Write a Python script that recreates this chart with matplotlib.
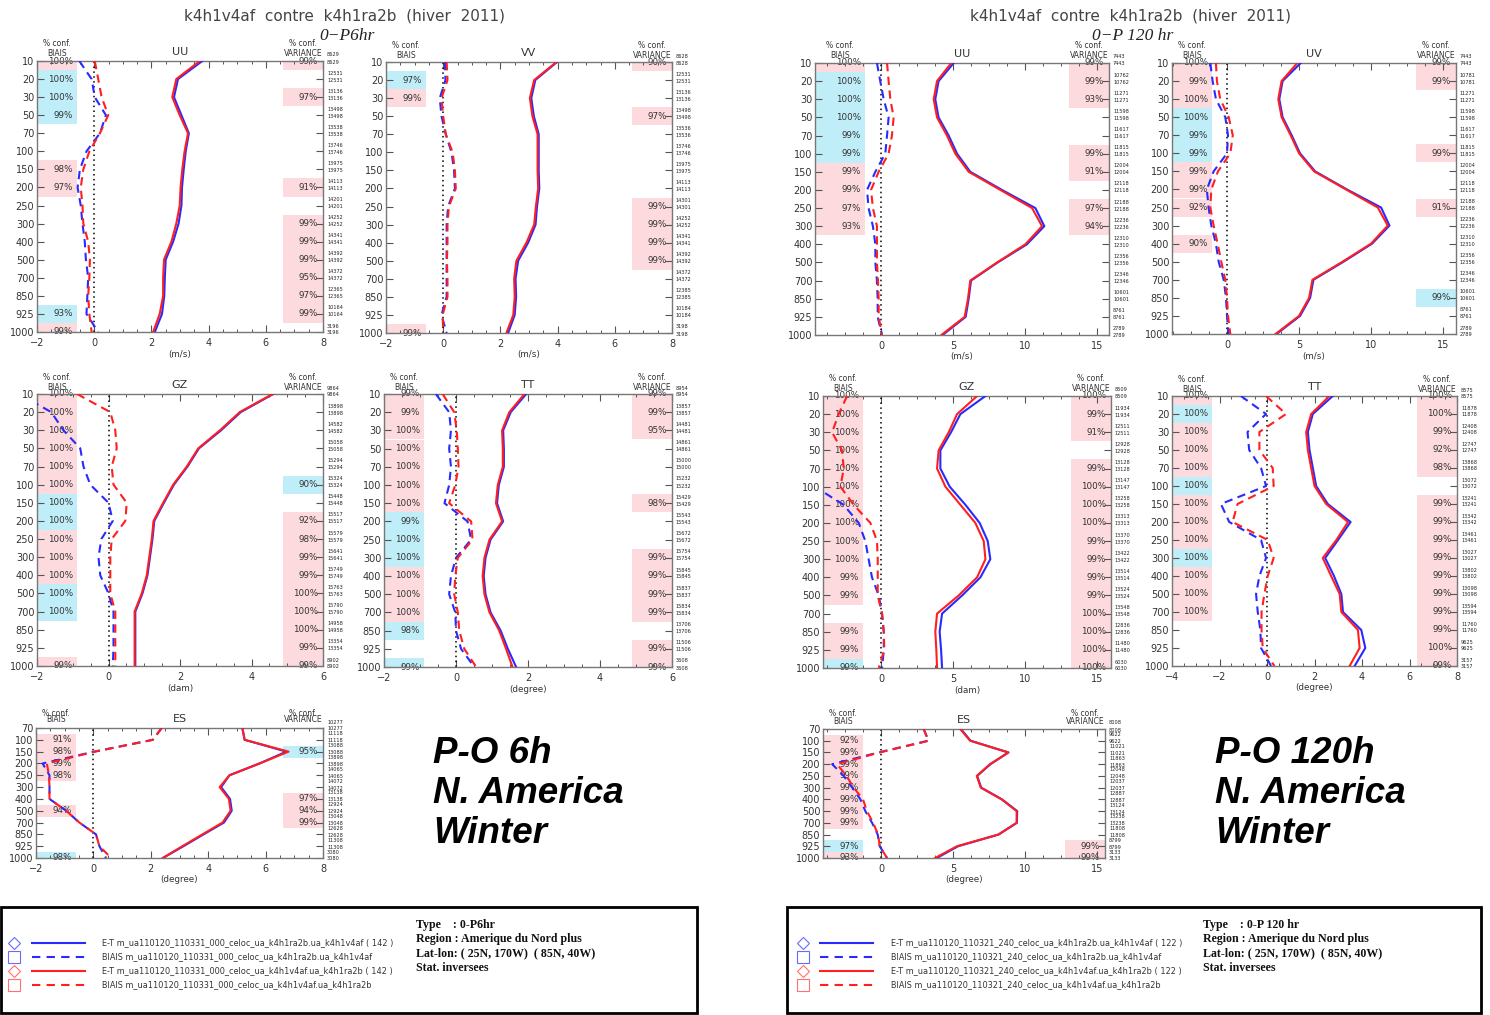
import matplotlib
matplotlib.use("Agg")
import matplotlib.pyplot as plt
from matplotlib.ticker import AutoMinorLocator
from matplotlib.patches import Rectangle
from matplotlib.lines import Line2D

# ---------------- data ----------------
LEVELS = [10, 20, 30, 50, 70, 100, 150, 200, 250, 300, 400, 500, 700, 850, 925, 1000]
ES_LEVELS = [70, 100, 150, 200, 250, 300, 400, 500, 700, 850, 925, 1000]

# ---- 0-P6hr (left group) ----
uu6_bsd = [3.78, 2.93, 2.79, 3.05, 3.31, 3.20, 3.13, 3.07, 3.05, 2.95, 2.76, 2.50, 2.47, 2.45, 2.37, 2.12]
uu6_rsd = [3.69, 2.87, 2.73, 2.99, 3.28, 3.16, 3.08, 3.02, 2.99, 2.87, 2.70, 2.44, 2.41, 2.41, 2.29, 2.06]
uu6_bb = [-0.52, -0.09, 0.02, 0.41, 0.20, -0.27, -0.50, -0.58, -0.47, -0.41, -0.33, -0.29, -0.21, -0.24, -0.27, 0.14]
uu6_rb = [0.02, 0.14, 0.26, 0.49, 0.20, -0.17, -0.38, -0.47, -0.41, -0.38, -0.21, -0.15, -0.17, -0.21, -0.17, -0.09]
uu6_bconf = [100, 100, 100, 99, 0, 0, 98, 97, 0, 0, 0, 0, 0, 0, 93, 99]
uu6_bcol = "pbbb..pp......bp"
uu6_vconf = [99, 0, 97, 0, 0, 0, 0, 91, 0, 99, 99, 99, 95, 97, 99, 0]
uu6_vcol = "p.p....p.pppppp."
uu6_n = [8629, 12531, 13136, 13498, 13538, 13746, 13975, 14113, 14201, 14252, 14341, 14392, 14372, 12365, 10164, 3196]

vv6_bsd = [3.98, 3.22, 3.08, 3.17, 3.34, 3.34, 3.34, 3.36, 3.28, 3.23, 2.97, 2.62, 2.53, 2.55, 2.50, 2.27]
vv6_rsd = [3.96, 3.18, 3.03, 3.12, 3.30, 3.30, 3.30, 3.32, 3.24, 3.18, 2.91, 2.56, 2.48, 2.50, 2.45, 2.21]
vv6_bb = [0.06, 0.08, -0.12, -0.06, 0.09, 0.29, 0.38, 0.41, 0.17, 0.12, 0.12, 0.12, 0.12, 0.12, -0.06, 0.12]
vv6_rb = [0.12, 0.15, -0.06, 0.00, 0.09, 0.33, 0.41, 0.44, 0.20, 0.15, 0.15, 0.13, 0.15, 0.15, -0.02, 0.00]
vv6_bconf = [0, 97, 99, 0, 0, 0, 0, 0, 0, 0, 0, 0, 0, 0, 0, 99]
vv6_bcol = ".bp............p"
vv6_vconf = [90, 0, 0, 97, 0, 0, 0, 0, 99, 99, 99, 99, 0, 0, 0, 0]
vv6_vcol = "p..p....pppp...."
vv6_n = [8628, 12531, 13136, 13498, 13536, 13746, 13975, 14113, 14301, 14252, 14341, 14392, 14372, 12385, 10184, 3198]

gz6_bsd = [4.61, 3.70, 3.15, 2.53, 2.21, 1.83, 1.55, 1.28, 1.23, 1.16, 1.09, 0.95, 0.75, 0.75, 0.75, 0.75]
gz6_rsd = [4.59, 3.67, 3.12, 2.51, 2.19, 1.81, 1.53, 1.26, 1.21, 1.14, 1.07, 0.93, 0.73, 0.73, 0.73, 0.73]
gz6_bb = [-2.50, -1.60, -1.26, -0.79, -0.70, -0.51, 0.00, 0.12, -0.20, -0.28, -0.23, 0.00, 0.14, 0.14, 0.14, 0.12]
gz6_rb = [-0.88, 0.05, 0.19, 0.23, 0.09, 0.14, 0.51, 0.47, 0.09, 0.05, 0.05, 0.05, 0.19, 0.19, 0.19, 0.19]
gz6_bconf = [100, 100, 100, 100, 100, 100, 100, 100, 100, 100, 100, 100, 100, 0, 0, 99]
gz6_bcol = "ppppppbbpppbb..p"
gz6_vconf = [0, 0, 0, 0, 0, 90, 0, 92, 98, 99, 99, 100, 100, 100, 99, 99]
gz6_vcol = ".....b.ppppppppp"
gz6_n = [9864, 13898, 14582, 15058, 15294, 15324, 15448, 15517, 15579, 15641, 15749, 15763, 15790, 14958, 13354, 8902]

tt6_bsd = [1.95, 1.52, 1.31, 1.33, 1.33, 1.19, 1.14, 1.31, 0.96, 0.82, 0.77, 0.82, 0.96, 1.24, 1.44, 1.67]
tt6_rsd = [1.90, 1.48, 1.28, 1.30, 1.30, 1.16, 1.11, 1.28, 0.93, 0.79, 0.74, 0.79, 0.93, 1.20, 1.39, 1.57]
tt6_bb = [-0.56, -0.19, -0.14, -0.19, -0.14, -0.19, -0.32, 0.32, 0.42, 0.00, -0.14, -0.19, -0.02, 0.00, 0.14, 0.51]
tt6_rb = [-0.37, -0.05, 0.02, 0.05, 0.07, -0.02, -0.19, 0.42, 0.46, 0.05, -0.02, -0.05, 0.05, 0.09, 0.23, 0.56]
tt6_bconf = [99, 99, 100, 100, 100, 100, 100, 99, 100, 100, 100, 100, 100, 98, 0, 99]
tt6_bcol = "pppppppbbbpppb.b"
tt6_vconf = [99, 99, 95, 0, 0, 0, 98, 0, 0, 99, 99, 99, 99, 0, 99, 99]
tt6_vcol = "ppp...p..pppp.pp"
tt6_n = [8954, 13857, 14481, 14861, 15000, 15232, 15429, 15543, 15672, 15754, 15845, 15837, 15834, 13706, 11506, 3608]

es6_bsd = [5.19, 5.27, 6.72, 5.79, 4.74, 4.45, 4.76, 4.82, 4.55, 3.84, 3.14, 2.42]
es6_rsd = [5.19, 5.27, 6.80, 5.79, 4.74, 4.40, 4.72, 4.78, 4.50, 3.80, 3.10, 2.42]
es6_bb = [2.38, 2.07, 0.03, -1.77, -1.53, -1.53, -1.53, -0.95, -0.49, 0.09, 0.21, 0.44]
es6_rb = [2.38, 2.07, 0.05, -1.62, -1.55, -1.53, -1.53, -0.95, -0.49, 0.09, 0.21, 0.62]
es6_bconf = [0, 91, 98, 99, 98, 0, 0, 94, 0, 0, 0, 98]
es6_bcol = ".pppp..p...b"
es6_vconf = [0, 0, 95, 0, 0, 0, 97, 94, 99, 0, 0, 0]
es6_vcol = "..b...ppp..."
es6_n = [10277, 11118, 13088, 13898, 14065, 14072, 13138, 12924, 13048, 12628, 11308, 3080]

# ---- 0-P 120 hr (right group) ----
uu120_bsd = [5.05, 4.00, 3.77, 4.00, 4.70, 5.28, 6.20, 8.40, 10.72, 11.34, 10.13, 8.10, 6.25, 6.09, 5.88, 4.28]
uu120_rsd = [4.88, 3.89, 3.66, 3.89, 4.58, 5.16, 6.09, 8.29, 10.49, 11.18, 10.02, 8.06, 6.20, 6.04, 5.81, 4.19]
uu120_bb = [-0.28, -0.05, 0.19, 0.53, 0.42, 0.30, -0.39, -0.97, -0.86, -0.56, -0.39, -0.39, -0.28, -0.23, -0.23, 0.07]
uu120_rb = [0.42, 0.53, 0.65, 0.88, 0.76, 0.53, -0.16, -0.69, -0.56, -0.28, -0.28, -0.28, -0.21, -0.16, -0.16, 0.07]
uu120_bconf = [100, 100, 100, 100, 99, 99, 99, 99, 97, 93, 0, 0, 0, 0, 0, 0]
uu120_bcol = "pbbbbbpppp......"
uu120_vconf = [99, 99, 93, 0, 0, 99, 91, 0, 97, 94, 0, 0, 0, 0, 0, 0]
uu120_vcol = "ppp..pp.pp......"
uu120_n = [7443, 10762, 11271, 11598, 11617, 11815, 12004, 12118, 12188, 12236, 12310, 12356, 12346, 10601, 8761, 2789]

uv120_bsd = [5.12, 3.86, 3.63, 3.86, 4.49, 5.07, 6.12, 8.33, 10.70, 11.28, 10.07, 8.09, 6.00, 5.77, 5.07, 3.44]
uv120_rsd = [4.88, 3.79, 3.56, 3.79, 4.42, 5.00, 6.05, 8.26, 10.47, 11.16, 10.00, 8.02, 5.93, 5.70, 5.00, 3.37]
uv120_bb = [-1.16, -1.00, -0.77, -0.12, 0.07, 0.00, -0.93, -1.40, -1.28, -1.09, -0.77, -0.58, -0.23, -0.07, 0.00, 0.12]
uv120_rb = [-0.77, -0.70, -0.47, 0.12, 0.40, 0.23, -0.63, -1.09, -1.16, -0.93, -0.65, -0.40, -0.12, 0.00, 0.07, 0.23]
uv120_bconf = [100, 99, 100, 100, 99, 99, 99, 99, 92, 0, 90, 0, 0, 0, 0, 0]
uv120_bcol = "pppbbbppp.p....."
uv120_vconf = [99, 99, 0, 0, 0, 99, 0, 0, 91, 0, 0, 0, 0, 99, 0, 0]
uv120_vcol = "pp...p..p....b.."
uv120_n = [7443, 10781, 11271, 11598, 11617, 11815, 12004, 12118, 12188, 12236, 12310, 12356, 12346, 10601, 8761, 2789]

gz120_bsd = [7.25, 5.51, 4.86, 4.12, 4.12, 4.77, 5.86, 6.85, 7.41, 7.59, 6.90, 5.63, 4.24, 4.07, 4.17, 4.24]
gz120_rsd = [6.67, 5.28, 4.70, 4.00, 3.89, 4.47, 5.51, 6.55, 7.13, 7.25, 6.67, 5.39, 3.89, 3.77, 3.84, 3.89]
gz120_bb = [-7.0, -7.0, -7.0, -7.0, -7.0, -4.6, -2.6, -1.55, -1.09, -0.86, -0.63, -0.16, 0.07, 0.19, 0.19, 0.07]
gz120_rb = [-2.36, -2.94, -3.40, -2.71, -2.59, -2.82, -1.90, -0.74, -0.28, -0.23, -0.23, -0.23, 0.07, 0.19, 0.23, -0.16]
gz120_bconf = [100, 100, 100, 100, 100, 100, 100, 100, 100, 100, 99, 99, 0, 99, 99, 99]
gz120_bcol = "pppppppppppp.ppb"
gz120_vconf = [100, 99, 91, 0, 99, 100, 100, 100, 99, 99, 99, 99, 100, 100, 100, 100]
gz120_vcol = "ppp.pppppppppppp"
gz120_n = [8509, 11934, 12511, 12928, 13128, 13147, 13258, 13313, 13370, 13422, 13514, 13524, 13548, 12836, 11480, 6030]

tt120_bsd = [2.77, 1.93, 1.72, 1.79, 1.93, 2.07, 2.56, 3.52, 2.99, 2.45, 2.82, 3.13, 3.20, 3.97, 4.14, 3.69]
tt120_rsd = [2.63, 1.86, 1.65, 1.72, 1.86, 2.00, 2.49, 3.41, 2.92, 2.35, 2.70, 3.06, 3.13, 3.83, 3.90, 3.48]
tt120_bb = [-1.10, -0.04, -0.82, -0.75, -0.25, -0.04, -1.94, -1.59, -0.25, -0.04, -0.32, -0.46, -0.39, -0.28, -0.25, 0.17]
tt120_rb = [-0.04, 0.80, -0.32, -0.32, 0.24, 0.28, -1.24, -1.45, 0.03, 0.28, 0.03, -0.11, -0.23, -0.23, -0.18, 0.31]
tt120_bconf = [100, 100, 100, 100, 100, 100, 100, 100, 100, 100, 100, 100, 100, 0, 0, 0]
tt120_bcol = "pbpppbpppbppp..."
tt120_vconf = [100, 100, 99, 92, 98, 0, 99, 99, 99, 99, 99, 99, 99, 99, 100, 99]
tt120_vcol = "ppppp.pppppppppp"
tt120_n = [8575, 11878, 12408, 12747, 13868, 13072, 13241, 13342, 13461, 13027, 13802, 13098, 13594, 11760, 9625, 3157]

es120_bsd = [5.55, 6.22, 8.85, 7.60, 6.68, 6.96, 8.40, 9.46, 9.44, 8.17, 5.35, 3.88]
es120_rsd = [5.50, 6.19, 8.85, 7.57, 6.65, 6.93, 8.38, 9.42, 9.42, 8.15, 5.27, 3.76]
es120_bb = [2.96, 3.30, -0.16, -3.39, -2.59, -2.00, -1.43, -1.09, -0.62, -0.23, -0.09, 0.42]
es120_rb = [2.96, 3.30, -0.10, -3.05, -2.40, -1.90, -1.25, -0.98, -0.55, -0.20, -0.09, 0.42]
es120_bconf = [0, 92, 99, 99, 99, 99, 99, 99, 99, 0, 97, 93]
es120_bcol = ".pppppppp.bp"
es120_vconf = [0, 0, 0, 0, 0, 0, 0, 0, 0, 0, 99, 99]
es120_vcol = "..........pp"
es120_n = [8008, 9622, 11021, 11863, 12048, 12037, 12887, 13124, 13238, 11808, 8799, 3133]

# legend texts
leg6 = ["E-T m_ua110120_110331_000_celoc_ua_k4h1ra2b.ua_k4h1v4af ( 142 )",
        "BIAIS m_ua110120_110331_000_celoc_ua_k4h1ra2b.ua_k4h1v4af",
        "E-T m_ua110120_110331_000_celoc_ua_k4h1v4af.ua_k4h1ra2b ( 142 )",
        "BIAIS m_ua110120_110331_000_celoc_ua_k4h1v4af.ua_k4h1ra2b"]
leg120 = ["E-T m_ua110120_110321_240_celoc_ua_k4h1ra2b.ua_k4h1v4af ( 122 )",
          "BIAIS m_ua110120_110321_240_celoc_ua_k4h1ra2b.ua_k4h1v4af",
          "E-T m_ua110120_110321_240_celoc_ua_k4h1v4af.ua_k4h1ra2b ( 122 )",
          "BIAIS m_ua110120_110321_240_celoc_ua_k4h1v4af.ua_k4h1ra2b"]
info6 = ["Type    : 0-P6hr", "Region : Amerique du Nord plus",
         "Lat-lon: ( 25N, 170W)  ( 85N, 40W)", "Stat. inversees"]
info120 = ["Type    : 0-P 120 hr", "Region : Amerique du Nord plus",
           "Lat-lon: ( 25N, 170W)  ( 85N, 40W)", "Stat. inversees"]

# ---------------- drawing ----------------
W, H = 1490, 1015
fig = plt.figure(figsize=(W / 100, H / 100), dpi=100)

PINK = '#fcdadd'
CYAN = '#bfeef8'
BLUE = '#2a2aff'
RED = '#ff1f1f'
TXT = '#333333'


def rect(x0, y0, x1, y1):
    return [x0 / W, 1 - y1 / H, (x1 - x0) / W, (y1 - y0) / H]


def panel(box, xlim, xticks, levels, bsd, rsd, bb, rb, bconf, bcol, vconf, vcol,
          counts, name, unit, bw=40):
    ax = fig.add_axes(rect(*box))
    n = len(levels)
    ys = list(range(n))
    ax.set_xlim(*xlim)
    ax.set_ylim(n - 1, 0)
    wpx = box[2] - box[0]
    frac = bw / wpx
    vfrac = 40.0 / wpx
    ytr = ax.get_yaxis_transform()
    for i in range(n):
        y0, y1 = max(i - 0.5, 0), min(i + 0.5, n - 1)
        if bconf[i]:
            ax.axhspan(y0, y1, 0, frac, color=PINK if bcol[i] == 'p' else CYAN,
                       lw=0, zorder=0)
            ax.annotate(f"{bconf[i]}%", xy=(frac, i), xycoords=ytr, xytext=(-4, 0),
                        textcoords='offset pixels', ha='right', va='center',
                        fontsize=6.3, color=TXT, zorder=1)
        if vconf[i]:
            ax.axhspan(y0, y1, 1 - vfrac, 1, color=PINK if vcol[i] == 'p' else CYAN,
                       lw=0, zorder=0)
            ax.annotate(f"{vconf[i]}%", xy=(1, i), xycoords=ytr, xytext=(-5, 0),
                        textcoords='offset pixels', ha='right', va='center',
                        fontsize=6.3, color=TXT, zorder=1)
        ax.annotate(str(counts[i]), xy=(1, i), xycoords=ytr, xytext=(4, 6),
                    textcoords='offset pixels', ha='left', va='center',
                    fontsize=3.6, color='#222', annotation_clip=False)
        ax.annotate(str(counts[i]), xy=(1, i), xycoords=ytr, xytext=(4, -1),
                    textcoords='offset pixels', ha='left', va='center',
                    fontsize=3.6, color='#222', annotation_clip=False)
    ax.axvline(0, color='k', ls=(0, (1, 2.2)), lw=1.1, zorder=2)
    ax.plot(bsd, ys, color=BLUE, lw=1.5, zorder=3)
    ax.plot(bb, ys, color=BLUE, lw=1.5, ls=(0, (4, 2.6)), zorder=3)
    ax.plot(rsd, ys, color=RED, lw=1.5, zorder=4)
    ax.plot(rb, ys, color=RED, lw=1.5, ls=(0, (4, 2.6)), zorder=4)

    ax.set_yticks(ys)
    ax.set_yticklabels([str(v) for v in levels])
    ax.set_xticks(xticks)
    ax.set_xticklabels(["\u2212" + str(-t) if t < 0 else str(t) for t in xticks])
    ax.xaxis.set_minor_locator(AutoMinorLocator(4))
    ax.tick_params(axis='y', direction='in', left=True, right=True, length=5,
                   width=0.8, labelsize=7, pad=2, colors='#555', labelcolor=TXT)
    ax.tick_params(axis='x', which='major', direction='in', top=True, bottom=True,
                   length=5, width=0.8, labelsize=7, pad=4, colors='#555',
                   labelcolor=TXT)
    ax.tick_params(axis='x', which='minor', direction='in', top=True, bottom=True,
                   length=2.5, width=0.7, colors='#555')
    for s in ax.spines.values():
        s.set_color('#777')
        s.set_linewidth(1.0)
    atr = ax.transAxes
    short = n < 16
    up1, up2 = (15, 8) if short else (17, 7)
    ax.annotate("% conf.", xy=(frac / 2, 1), xycoords=atr, xytext=(0, up1),
                textcoords='offset pixels', ha='center', va='center', fontsize=5.5, color=TXT)
    ax.annotate("BIAIS", xy=(frac / 2, 1), xycoords=atr, xytext=(0, up2),
                textcoords='offset pixels', ha='center', va='center', fontsize=5.5, color=TXT)
    ax.annotate("% conf.", xy=(1 - vfrac / 2, 1), xycoords=atr, xytext=(0, up1),
                textcoords='offset pixels', ha='center', va='center', fontsize=5.5, color=TXT)
    ax.annotate("VARIANCE", xy=(1 - vfrac / 2, 1), xycoords=atr, xytext=(0, up2),
                textcoords='offset pixels', ha='center', va='center', fontsize=5.5, color=TXT)
    ax.annotate(name, xy=(0.5, 1), xycoords=atr, xytext=(0, 9),
                textcoords='offset pixels', ha='center', va='center', fontsize=8, color=TXT)
    ax.annotate(unit, xy=(0.5, 0), xycoords=atr, xytext=(0, -22),
                textcoords='offset pixels', ha='center', va='center', fontsize=6.3, color=TXT)
    return ax


# left group (0-P6hr)
panel((37, 61, 323, 332), (-2, 8), [-2, 0, 2, 4, 6, 8], LEVELS, uu6_bsd, uu6_rsd, uu6_bb, uu6_rb,
      uu6_bconf, uu6_bcol, uu6_vconf, uu6_vcol, uu6_n, "UU", "(m/s)")
panel((386, 62, 672, 333), (-2, 8), [-2, 0, 2, 4, 6, 8], LEVELS, vv6_bsd, vv6_rsd, vv6_bb, vv6_rb,
      vv6_bconf, vv6_bcol, vv6_vconf, vv6_vcol, vv6_n, "VV", "(m/s)")
panel((37, 394, 323, 666), (-2, 6), [-2, 0, 2, 4, 6], LEVELS, gz6_bsd, gz6_rsd, gz6_bb, gz6_rb,
      gz6_bconf, gz6_bcol, gz6_vconf, gz6_vcol, gz6_n, "GZ", "(dam)")
panel((384, 394, 672, 667), (-2, 6), [-2, 0, 2, 4, 6], LEVELS, tt6_bsd, tt6_rsd, tt6_bb, tt6_rb,
      tt6_bconf, tt6_bcol, tt6_vconf, tt6_vcol, tt6_n, "TT", "(degree)")
panel((36, 728, 323, 858), (-2, 8), [-2, 0, 2, 4, 6, 8], ES_LEVELS, es6_bsd, es6_rsd, es6_bb, es6_rb,
      es6_bconf, es6_bcol, es6_vconf, es6_vcol, es6_n, "ES", "(degree)")

# right group (0-P 120 hr)
panel((815, 63, 1109, 335), (-4.58, 15.83), [0, 5, 10, 15], LEVELS, uu120_bsd, uu120_rsd, uu120_bb, uu120_rb,
      uu120_bconf, uu120_bcol, uu120_vconf, uu120_vcol, uu120_n, "UU", "(m/s)", bw=50)
panel((1172, 63, 1456, 334), (-3.82, 15.9), [0, 5, 10, 15], LEVELS, uv120_bsd, uv120_rsd, uv120_bb, uv120_rb,
      uv120_bconf, uv120_bcol, uv120_vconf, uv120_vcol, uv120_n, "UV", "(m/s)")
panel((823, 396, 1111, 668), (-4.03, 15.97), [0, 5, 10, 15], LEVELS, gz120_bsd, gz120_rsd, gz120_bb, gz120_rb,
      gz120_bconf, gz120_bcol, gz120_vconf, gz120_vcol, gz120_n, "GZ", "(dam)")
panel((1172, 396, 1457, 666), (-4, 8), [-4, -2, 0, 2, 4, 6, 8], LEVELS, tt120_bsd, tt120_rsd, tt120_bb, tt120_rb,
      tt120_bconf, tt120_bcol, tt120_vconf, tt120_vcol, tt120_n, "TT", "(degree)")
panel((823, 729, 1105, 858), (-4.03, 15.56), [0, 5, 10, 15], ES_LEVELS, es120_bsd, es120_rsd, es120_bb, es120_rb,
      es120_bconf, es120_bcol, es120_vconf, es120_vcol, es120_n, "ES", "(degree)")


def ftext(x, y, s, **kw):
    fig.text(x / W, 1 - y / H, s, **kw)


# titles
for cx, sub in ((345, "0\u2212P6hr"), (1131, "0\u2212P 120 hr")):
    ftext(cx, 16, "k4h1v4af  contre  k4h1ra2b  (hiver  2011)", ha='center', va='center',
          fontsize=11, color='#444')
    ftext(cx + 2, 36, sub, ha='center', va='center', fontsize=12.5,
          family='Liberation Serif', style='italic', color='#222')

# big annotations
for x0, first in ((433, "P-O 6h"), (1215, "P-O 120h")):
    for k, s in enumerate((first, "N. America", "Winter")):
        ftext(x0, 763 + 40 * k, s, ha='left', va='baseline', fontsize=26.5,
              family='Liberation Sans', weight='bold', style='italic', color='black')


# legend boxes
def legend_box(x0, x1, mx, lx0, lx1, tx, ix, texts, info):
    fig.add_artist(Rectangle((x0 / W, 1 - 1013 / H), (x1 - x0) / W, 106 / H,
                             transform=fig.transFigure, fill=False, lw=2, ec='black'))
    rows = [943, 957, 971, 985]
    styles = [('#6a6aff', 'D', BLUE, '-'), ('#6a6aff', 's', BLUE, (0, (4, 3))),
              ('#ff7070', 'D', RED, '-'), ('#ff7070', 's', RED, (0, (4, 3)))]
    for y, (mc, m, c, ls), t in zip(rows, styles, texts):
        fy = 1 - y / H
        fig.add_artist(Line2D([mx / W], [fy], transform=fig.transFigure, marker=m,
                              ms=6 if m == 'D' else 8, mfc='none', mec=mc, mew=0.8, ls='none'))
        fig.add_artist(Line2D([lx0 / W, lx1 / W], [fy, fy], transform=fig.transFigure,
                              color=c, lw=1.5, ls=ls))
        ftext(tx, y, t, ha='left', va='center', fontsize=5.9, color='#333')
    for k, t in enumerate(info):
        ftext(ix, 925 + 14.3 * k, t, ha='left', va='center', fontsize=8.6,
              family='Liberation Serif', weight='bold', color='#111')


legend_box(1, 697, 14, 32, 85, 102, 416, leg6, info6)
legend_box(787, 1481, 803, 820, 873, 891, 1203, leg120, info120)

fig.savefig("out.png", dpi=100)
